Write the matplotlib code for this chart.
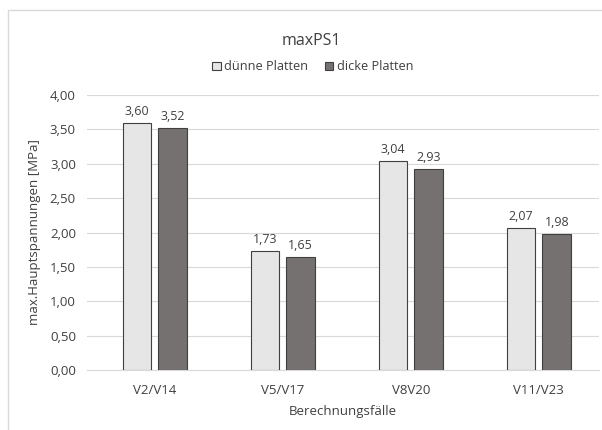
import matplotlib.pyplot as plt
import numpy as np
from matplotlib.patches import Rectangle

categories = ["V2/V14", "V5/V17", "V8V20", "V11/V23"]
duenne = [3.60, 1.73, 3.04, 2.07]
dicke = [3.52, 1.65, 2.93, 1.98]
yticks = [0, 0.5, 1.0, 1.5, 2.0, 2.5, 3.0, 3.5, 4.0]

plt.rcParams["font.family"] = ["Open Sans", "DejaVu Sans"]
txt = "#404040"

fig = plt.figure(figsize=(6.02, 4.30), dpi=100)
fig.patches.append(Rectangle((8 / 602, -0.1), 1.2, (430 - 10) / 430 + 0.1,
                             transform=fig.transFigure, fill=False,
                             edgecolor="#D9D9D9", linewidth=1))
ax = fig.add_axes([87 / 602, 60 / 430, 512 / 602, 275 / 430])

x = np.arange(len(categories)) + 0.03
w = 0.225
b1 = ax.bar(x - 0.14, duenne, w, color="#E7E6E6", edgecolor="#404040",
            linewidth=0.8, label="dünne Platten", zorder=3)
b2 = ax.bar(x + 0.14, dicke, w, color="#767171", edgecolor="#404040",
            linewidth=0.8, label="dicke Platten", zorder=3)
for bars in (b1, b2):
    for r in bars:
        v = r.get_height()
        ax.text(r.get_x() + r.get_width() / 2, v + 0.07, f"{v:.2f}".replace(".", ","),
                ha="center", va="bottom", fontsize=9, color=txt)

ax.set_xlim(-0.5, 3.5)
ax.set_ylim(0, 4)
ax.set_yticks(yticks)
ax.set_yticklabels([f"{t:.2f}".replace(".", ",") for t in yticks])
ax.set_xticks(np.arange(len(categories)) + 0.03)
ax.set_xticklabels(categories)
ax.tick_params(axis="both", length=0, labelsize=9.5, colors=txt)
ax.tick_params(axis="x", pad=10)
ax.tick_params(axis="y", pad=8)
ax.grid(axis="y", color="#D9D9D9", linewidth=0.8, zorder=0)
for s in ("top", "right", "left"):
    ax.spines[s].set_visible(False)
ax.spines["bottom"].set_color("#D9D9D9")

ax.set_ylabel("max.Hauptspannungen [MPa]", fontsize=9.5, color=txt, labelpad=6)
ax.set_xlabel("Berechnungsfälle", fontsize=9.5, color=txt, labelpad=6)
fig.text(311 / 602, 1 - 41 / 430, "maxPS1", ha="center", va="center", fontsize=11.5, color=txt)
fig.legend(handles=[b1, b2], loc="center", bbox_to_anchor=(313 / 602, 1 - 67 / 430),
           ncol=2, frameon=False, fontsize=9.2, labelcolor=txt,
           handlelength=0.65, handleheight=0.65, handletextpad=0.3, columnspacing=1.3)

fig.savefig("out.png", dpi=100)
